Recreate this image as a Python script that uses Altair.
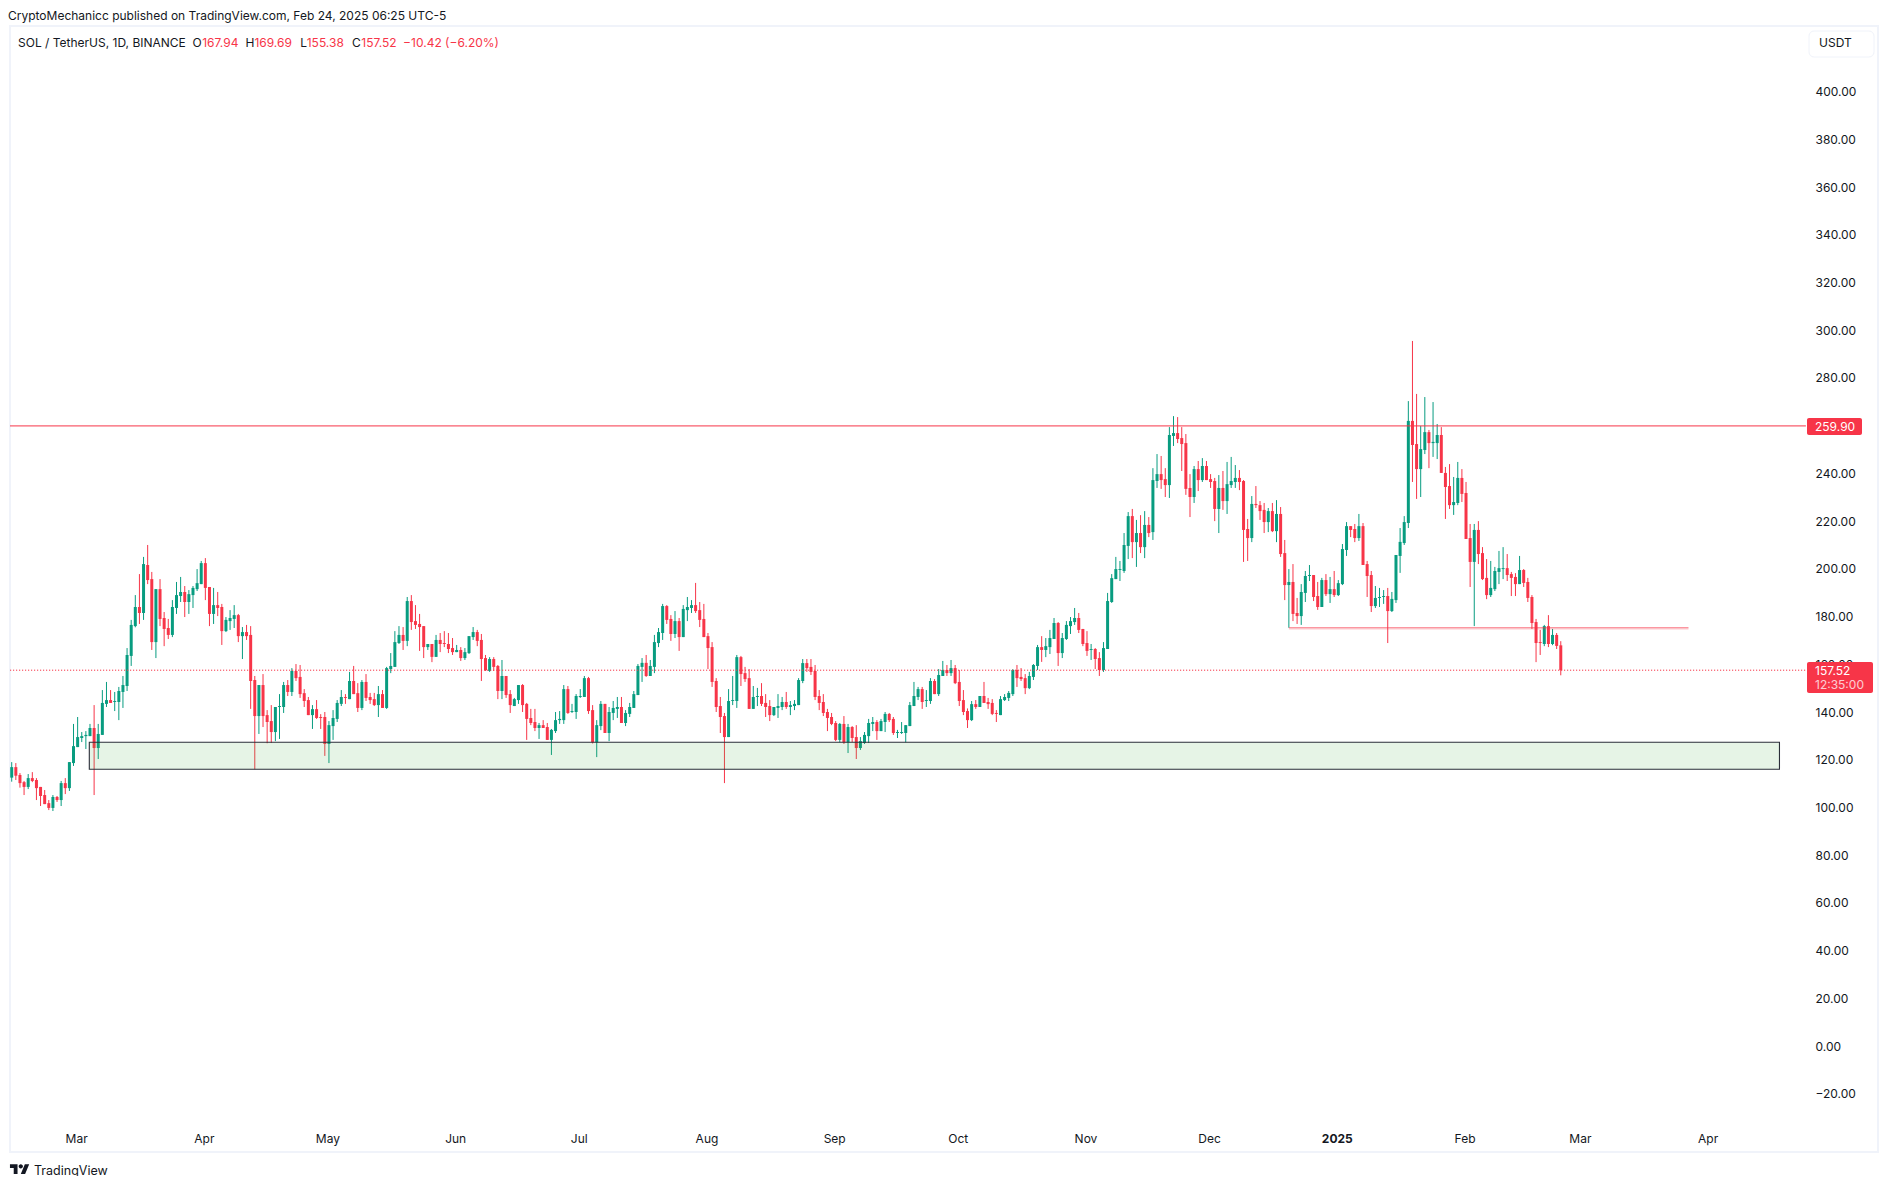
import altair as alt
import pandas as pd

opens = [
112.5,116.9,113.6,110.6,108.6,112.3,111.5,108.6,105.2,101.8,
99.8,104.4,103.1,110.2,108.1,118.6,125.3,129.1,129.9,129.9,
133.3,124.9,130.4,143.4,145.0,144.2,144.2,148.4,150.9,163.5,
176.0,184.0,181.5,201.6,195.7,169.3,191.5,179.4,175.2,172.3,
183.6,188.6,190.3,186.1,189.0,191.5,193.6,202.4,192.4,181.1,
184.8,184.0,173.9,178.1,179.0,180.6,171.8,173.5,172.3,153.4,
138.3,151.3,138.7,136.2,131.6,142.1,142.1,151.3,148.4,157.2,
154.7,147.9,145.0,138.7,141.2,137.9,137.9,126.6,134.1,137.1,
143.4,146.3,145.4,153.0,147.9,141.7,152.6,146.3,145.4,142.9,
147.5,141.7,158.0,158.9,168.9,172.3,169.8,186.5,178.1,176.9,
176.0,167.2,168.5,163.1,170.2,168.9,168.5,166.8,165.1,166.0,
162.6,164.7,171.4,173.5,170.2,162.6,157.2,162.2,159.3,148.8,
155.1,147.5,142.5,145.0,151.3,143.4,137.5,135.8,133.3,134.5,
133.7,128.3,132.0,136.6,136.6,149.6,140.0,140.0,146.3,146.3,
154.2,140.8,127.3,134.1,143.4,131.2,139.6,141.3,142.1,135.4,
139.2,141.7,147.1,158.9,160.6,155.1,158.9,168.9,173.1,184.4,
179.0,172.7,178.1,171.4,182.7,183.6,184.8,182.7,179.0,171.8,
167.2,153.0,142.5,138.3,129.5,144.6,144.6,163.0,156.3,154.2,
141.3,146.3,146.7,143.8,142.5,138.7,141.7,142.1,144.2,142.1,
142.5,142.9,153.0,160.5,158.9,157.2,146.7,144.2,140.0,137.9,
135.4,128.3,135.0,127.3,133.7,129.5,124.9,127.0,129.9,135.0,
135.8,132.0,135.8,139.2,137.1,131.2,131.2,131.2,134.1,142.5,
146.3,149.6,144.6,144.6,153.0,147.5,155.1,157.6,156.3,158.4,
152.6,145.0,140.4,136.6,143.3,142.1,146.7,144.2,143.8,139.6,
138.7,145.0,145.9,147.5,157.6,154.7,154.2,150.0,154.7,159.3,
167.2,166.0,167.2,170.6,177.3,164.7,170.6,176.0,177.7,179.4,
174.8,168.9,166.0,166.4,162.6,157.6,166.4,186.1,195.7,199.5,
199.1,209.6,222.1,211.2,215.0,209.1,218.4,215.4,236.8,239.7,
237.6,235.1,255.7,256.9,254.8,252.7,233.9,230.1,241.8,237.2,
243.1,237.6,236.8,225.1,233.9,228.4,235.1,236.4,238.1,236.8,
216.7,212.9,227.2,226.7,224.7,219.6,224.2,215.8,223.0,206.6,
193.2,194.5,181.5,180.2,189.9,197.0,197.4,188.6,184.0,195.3,
189.4,191.5,189.0,193.6,207.9,217.9,216.7,212.9,217.9,202.0,
197.4,184.4,187.8,188.2,188.6,182.3,186.9,205.4,210.8,219.2,
262.0,252.3,241.8,249.8,257.3,252.7,252.7,256.1,240.2,234.7,
226.7,227.6,238.1,231.8,212.9,202.9,216.3,206.6,196.2,189.0,
191.5,198.7,199.9,200.3,197.8,196.6,193.6,199.5,194.5,188.2,
177.7,169.3,168.5,176.0,168.5,172.3,167.94]

closes = [
116.9,113.3,110.2,108.6,112.3,111.1,108.1,104.8,101.4,99.8,
104.4,103.1,110.2,108.1,119.0,125.7,129.5,129.9,130.4,133.3,
124.9,130.8,143.8,145.0,143.8,144.6,148.8,151.3,163.9,176.5,
184.0,181.5,202.0,195.3,169.3,191.5,179.0,174.8,172.3,184.0,
189.0,190.3,186.1,189.4,192.0,194.0,202.4,192.0,181.1,184.8,
183.6,173.9,178.6,179.4,180.6,171.8,173.5,171.8,153.0,138.3,
151.3,138.3,135.8,131.6,142.1,142.5,151.3,148.4,157.2,154.2,
147.5,144.6,138.7,141.2,137.5,137.5,126.6,134.5,137.5,143.8,
146.3,145.9,153.0,147.5,141.7,152.6,145.9,145.0,142.9,147.5,
141.7,158.4,159.3,169.3,172.3,169.8,186.5,177.7,176.5,175.6,
167.2,168.5,163.1,170.2,168.5,168.5,166.4,165.1,166.0,162.6,
165.1,171.8,173.5,169.8,162.2,157.5,162.2,158.9,148.8,155.1,
147.1,142.9,145.4,151.3,142.9,137.1,135.4,133.3,134.5,133.3,
128.3,132.5,136.6,137.1,149.6,139.6,140.4,146.7,146.7,154.2,
140.4,127.3,134.5,143.4,131.2,140.0,141.7,142.1,135.4,139.6,
142.1,147.5,159.3,160.6,155.1,159.3,169.3,173.5,184.4,178.6,
172.7,178.1,171.4,183.2,184.0,184.8,182.3,178.6,171.4,166.8,
152.6,142.1,137.9,129.5,144.6,145.0,163.0,155.9,153.8,141.3,
146.3,146.7,143.4,142.1,138.7,142.1,142.5,144.2,142.1,142.9,
143.4,153.4,160.5,158.4,156.8,146.3,143.8,139.6,137.5,135.0,
128.3,135.0,127.3,133.7,129.1,124.9,127.8,130.4,135.4,135.8,
132.0,136.2,139.2,136.6,131.2,131.6,131.6,134.5,142.9,146.7,
149.6,144.2,145.0,153.0,147.5,155.5,157.6,156.3,158.4,152.1,
144.6,140.0,136.6,143.3,142.1,146.7,143.8,143.3,139.2,139.2,
145.4,146.3,148.0,157.6,154.2,153.8,150.0,155.1,159.7,167.2,
166.0,167.6,171.0,177.3,164.7,171.0,176.5,178.1,179.4,174.4,
168.5,165.6,166.4,162.2,157.6,166.8,186.5,196.1,199.9,199.9,
210.0,222.1,211.2,215.0,209.1,218.4,215.0,237.2,239.7,237.2,
235.1,256.1,256.9,254.4,252.3,233.5,230.1,241.8,237.2,243.1,
237.2,236.4,225.1,233.9,228.4,235.5,236.8,238.1,236.4,216.3,
212.9,227.2,226.7,224.2,219.6,224.2,215.8,223.0,206.2,193.2,
194.5,181.1,180.2,190.3,197.0,197.4,188.2,184.0,195.3,189.4,
191.5,189.0,194.0,208.3,217.9,216.3,212.9,217.9,201.6,197.0,
184.4,187.8,188.2,188.6,182.3,187.4,205.8,211.3,219.6,262.0,
251.9,241.8,250.2,257.3,252.7,253.2,256.1,240.2,234.3,226.7,
228.0,238.1,231.4,212.5,202.9,216.3,206.2,195.7,189.0,192.0,
199.1,200.3,200.3,197.4,196.2,193.6,199.5,194.1,187.8,177.3,
168.9,168.9,176.0,168.5,172.3,167.7,157.52]

highs = [
119.0,118.6,114.4,111.1,114.0,114.8,112.3,108.6,107.3,103.1,
105.2,104.8,111.1,112.3,119.0,135.0,137.9,131.6,132.0,135.0,
142.9,135.0,149.2,152.6,149.2,148.4,150.5,155.1,166.8,178.6,
189.0,197.8,205.0,210.0,198.7,191.5,195.7,181.9,179.0,186.9,
194.5,196.6,192.8,191.1,192.8,199.9,203.3,204.5,192.4,192.0,
190.3,185.3,179.8,182.7,184.8,181.1,175.6,176.5,176.0,155.1,
151.3,155.9,140.8,142.9,142.1,147.5,152.6,153.4,158.4,160.1,
159.7,149.6,146.3,142.9,145.0,139.1,140.0,136.2,140.8,145.0,
149.2,147.5,156.8,159.3,152.1,153.4,155.9,148.0,148.0,150.9,
149.2,158.9,164.7,173.9,176.0,175.6,188.2,189.0,184.8,181.1,
176.0,168.5,168.5,172.3,173.1,173.9,173.1,171.0,168.1,167.2,
166.8,171.8,175.6,174.4,172.7,163.9,163.0,163.0,159.7,161.8,
155.1,149.2,145.9,151.3,151.7,143.8,141.3,141.3,135.4,136.6,
135.4,132.9,140.0,140.4,151.3,150.9,143.4,147.5,149.6,155.1,
154.7,142.9,136.6,144.6,143.4,142.1,144.6,146.3,146.3,140.8,
143.8,148.8,160.1,162.6,163.9,161.8,172.3,175.2,185.3,184.8,
180.6,182.3,179.4,184.8,188.2,186.9,194.1,186.1,185.3,173.1,
169.3,154.2,146.3,139.6,149.6,155.1,163.9,163.5,158.9,158.0,
150.9,150.1,152.1,147.5,145.0,142.1,147.5,146.3,148.4,144.6,
145.0,154.2,162.2,162.2,162.2,159.7,149.2,147.5,141.3,139.6,
136.2,135.4,138.3,135.0,134.1,134.5,129.5,131.6,137.1,137.9,
136.6,137.1,140.0,139.6,137.9,132.5,135.8,134.5,144.2,152.6,
150.5,150.5,149.2,154.2,153.8,158.0,161.4,159.7,161.8,159.7,
157.6,149.2,141.5,144.6,145.0,146.7,152.6,145.9,145.4,140.8,
146.7,147.5,148.8,158.0,159.7,158.4,155.9,156.8,160.1,168.1,
171.8,171.0,174.4,179.4,177.7,173.1,178.1,179.8,183.6,181.5,
174.8,173.9,168.5,166.8,165.1,169.3,189.9,197.8,205.0,203.3,
215.0,223.8,225.1,220.5,222.5,224.2,221.7,242.2,248.1,247.3,
242.2,259.4,264.0,263.6,259.4,256.5,239.7,243.1,245.2,246.4,
245.2,239.7,238.1,239.3,241.0,244.8,246.9,243.5,241.4,237.2,
220.9,230.5,234.7,228.4,227.6,225.5,227.6,228.8,225.9,212.1,
199.9,202.0,187.8,193.6,199.1,201.6,197.4,194.5,196.2,197.8,
196.6,199.1,195.3,210.4,219.6,217.9,218.8,223.0,219.2,203.3,
199.1,192.8,192.0,191.1,192.0,190.3,205.8,217.1,222.1,270.3,
295.5,273.3,259.9,272.0,258.2,269.9,260.7,259.4,242.7,243.9,
238.5,244.8,241.8,236.4,218.8,218.8,220.0,209.1,204.1,203.3,
200.8,207.5,209.1,206.2,198.7,198.2,205.4,199.9,196.2,189.0,
179.0,174.4,176.5,180.6,174.8,173.1,169.69]

lows = [
110.8,111.5,108.3,105.2,107.7,110.6,103.1,100.6,101.4,98.9,
98.5,102.3,100.6,105.6,106.9,117.4,125.3,127.4,124.5,129.9,
105.2,120.3,130.4,142.1,143.8,140.4,136.6,141.7,148.8,159.3,
175.5,176.9,178.6,193.6,166.0,162.6,176.0,167.6,170.6,171.4,
181.1,186.1,179.8,181.1,183.6,190.7,193.6,186.9,176.0,176.9,
180.2,168.1,173.5,174.4,175.2,169.3,162.2,170.2,141.3,116.0,
130.8,133.7,126.9,127.0,127.8,128.7,139.6,146.7,146.7,153.0,
145.9,142.1,138.7,132.9,137.1,132.9,121.6,118.6,128.3,135.8,
142.5,143.4,145.4,147.5,140.0,140.8,144.6,143.4,142.5,137.9,
141.7,141.3,156.3,158.9,168.5,166.0,167.6,174.4,174.8,165.6,
162.6,166.0,160.9,163.1,165.1,167.2,164.7,163.9,165.1,161.4,
161.8,164.3,170.2,167.6,153.0,157.2,156.8,157.2,145.4,145.4,
145.9,139.6,142.5,143.4,140.0,128.3,134.5,132.0,128.7,133.3,
128.3,122.0,131.2,135.0,135.0,139.2,139.6,137.1,145.9,146.3,
139.2,126.8,121.1,132.4,131.2,127.8,136.6,137.5,135.4,134.1,
137.9,141.7,147.1,152.6,154.7,155.1,156.3,167.2,170.2,176.9,
169.8,171.0,165.6,171.4,178.1,181.5,181.5,175.6,171.4,158.0,
150.5,140.0,131.2,110.2,129.5,142.9,141.7,150.9,152.6,141.3,
141.3,142.5,142.5,137.9,136.2,138.3,137.5,140.8,141.3,138.7,
140.8,142.9,152.1,156.8,155.5,145.0,140.8,138.3,132.0,134.5,
127.8,127.3,126.6,122.8,127.4,120.3,124.1,126.6,127.0,132.0,
128.3,132.0,131.6,135.8,130.4,129.1,130.8,127.3,134.1,142.5,
145.0,141.3,142.1,143.4,147.5,146.7,155.1,155.1,155.1,151.7,
142.5,138.7,133.3,136.2,141.3,142.1,143.8,141.3,138.7,135.8,
138.7,144.6,144.6,146.7,150.5,153.0,147.5,149.6,153.4,157.6,
161.0,163.0,164.3,170.6,159.3,162.6,170.2,172.7,176.5,173.1,
167.6,163.5,161.8,158.0,155.1,156.8,166.4,185.7,195.7,194.9,
198.3,204.1,204.5,200.8,206.6,204.5,213.3,212.1,233.9,233.5,
230.1,229.7,251.5,252.7,241.0,231.0,221.7,227.6,232.6,236.4,
237.2,233.9,220.0,215.0,224.7,223.0,233.9,233.9,233.0,202.9,
203.3,211.2,225.5,220.5,215.0,215.4,215.4,211.2,205.0,186.9,
175.3,178.1,176.9,176.5,186.1,194.9,186.5,182.8,184.0,188.6,
185.7,188.2,188.6,193.2,205.4,213.3,211.2,211.7,201.6,188.2,
181.9,183.6,184.0,185.3,168.9,181.9,185.7,198.3,210.0,217.1,
236.4,229.3,230.1,248.1,242.2,246.9,246.0,240.2,220.9,225.1,
222.6,226.7,228.0,212.5,192.4,176.0,202.0,195.3,187.3,188.2,
190.7,193.6,195.7,194.9,188.6,188.6,193.6,192.4,186.1,174.8,
160.9,163.9,167.6,167.2,168.0,166.4,155.38]

price_ticks = list(range(-20, 401, 20))
zone_low, zone_high = 116.0, 127.3
zone_start, zone_end = "2024-03-03T20:00:00Z", "2025-04-18T02:00:00Z"
resistance = 259.90
last_close = 157.52
support = 175.3
support_start, support_end = "2024-12-20", "2025-03-27"
line_start, line_end = "2024-02-13T14:00:00Z", "2025-04-24T12:00:00Z"

GREEN = "#089C80"
RED = "#F73548"
INK = "#131722"
FONT = "Inter"

n = len(opens)
assert n == len(closes) == len(highs) == len(lows) == 377
dates = pd.date_range("2024-02-14", periods=n, freq="D").strftime("%Y-%m-%d").tolist()
df = pd.DataFrame({"date": dates, "open": opens, "high": highs, "low": lows, "close": closes})
df["dir"] = ["up" if c >= o else "down" for o, c in zip(opens, closes)]

x_scale = alt.Scale(type="utc", domain=["2024-02-13T14:00:00Z", "2025-05-12T00:00:00Z"], nice=False, padding=0)
y_scale = alt.Scale(domain=[-44.4, 427.5], nice=False, zero=False)
color = alt.Color("dir:N", scale=alt.Scale(domain=["up", "down"], range=[GREEN, RED]), legend=None)

month_ticks = [alt.DateTime(year=y, month=m, date=1, utc=True) for y, m in
               [(2024, i) for i in range(3, 13)] + [(2025, i) for i in range(1, 5)]]
x_axis = alt.Axis(values=month_ticks, grid=False, domain=False, ticks=False, title=None,
                  labelExpr="utcFormat(datum.value,'%m')=='01' ? utcFormat(datum.value,'%Y') : utcFormat(datum.value,'%b')",
                  labelFontWeight={"condition": {"test": "utcFormat(datum.value,'%m')=='01'", "value": 700}, "value": 400},
                  labelFont=FONT, labelFontSize=12, labelColor=INK, labelPadding=0, offset=-19, labelOffset=-1.5,
                  labelOverlap=False, labelFlush=False)
y_axis = alt.Axis(orient="right", values=price_ticks, format=".2f", grid=False, domain=False, ticks=False,
                  title=None, labelFont=FONT, labelFontSize=12, labelColor=INK, labelPadding=0,
                  offset=-63, labelOverlap=False, labelFlush=False, labelAlign="left", labelBaseline="middle")

base = alt.Chart(df)
wicks = base.mark_rule(strokeWidth=1).encode(
    x=alt.X("date:T", scale=x_scale, axis=x_axis),
    y=alt.Y("low:Q", scale=y_scale, axis=y_axis),
    y2="high:Q",
    color=color,
)
bodies = base.mark_bar(width=3).encode(
    x=alt.X("date:T", scale=x_scale, axis=None),
    y=alt.Y("open:Q", scale=y_scale, axis=None),
    y2="close:Q",
    color=color,
)

zone = alt.Chart(pd.DataFrame({"a": [zone_start], "b": [zone_end], "lo": [zone_low], "hi": [zone_high]})).mark_rect(
    fill="#4CAF50", fillOpacity=0.14, stroke="#2A2E39", strokeWidth=1.1
).encode(x=alt.X("a:T", scale=x_scale, axis=None), x2="b:T",
         y=alt.Y("lo:Q", scale=y_scale, axis=None), y2="hi:Q")


def hline(price, start, end, **kw):
    d = pd.DataFrame({"a": [start], "b": [end], "p": [price]})
    return alt.Chart(d).mark_rule(**kw).encode(
        x=alt.X("a:T", scale=x_scale, axis=None), x2="b:T",
        y=alt.Y("p:Q", scale=y_scale, axis=None))


res_line = hline(resistance, line_start, line_end, color=RED, strokeWidth=1)
last_line = hline(last_close, line_start, line_end, color=RED, strokeWidth=1, strokeDash=[1.2, 1.8])
sup_glow = hline(support - 0.5, support_start, support_end, color=RED, strokeWidth=1.5, opacity=0.18)
sup_line = hline(support, support_start, support_end, color=RED, strokeWidth=1, opacity=0.7)

# page pixel -> plot pixel
OX, OY = 10, 26


def text(s, x, y, color=INK, size=12, weight=400, opacity=1):
    return alt.Chart(pd.DataFrame({"t": [s]})).mark_text(
        align="left", baseline="middle", font=FONT, fontSize=size, fontWeight=weight,
        color=color, opacity=opacity
    ).encode(text="t:N", x=alt.value(x - OX), y=alt.value(y - OY))


def box(x0, x1, y0, y1, **kw):
    return alt.Chart(pd.DataFrame({"t": [0]})).mark_rect(**kw).encode(
        x=alt.value(x0 - OX), x2=alt.value(x1 - OX), y=alt.value(y0 - OY), y2=alt.value(y1 - OY))


tag_res = box(1807, 1862, 418, 435, color=RED, cornerRadius=2)
tag_last = box(1807, 1873, 662, 693, color=RED, cornerRadius=2)
usdt_box = box(1809, 1874, 31, 57, fill="#FFFFFF", stroke="#F0F3FA", strokeWidth=1, cornerRadius=5)

LOGO = ("M-.111 .25L-.306 .25L-.306 -.056L-.5 -.056L-.5 -.25L-.111 -.25Z"
        "M.278 .25L.056 .25L.264 -.25L.486 -.25Z"
        "M-.055 -.139A.111 .111 0 1 1 .167 -.139A.111 .111 0 1 1 -.055 -.139Z")
logo = alt.Chart(pd.DataFrame({"t": [0]})).mark_point(
    shape=LOGO, size=1521, filled=True, color=INK, opacity=1
).encode(x=alt.value(19.7 - OX), y=alt.value(1169 - OY))

labels = [
    text("CryptoMechanicc published on TradingView.com, Feb 24, 2025 06:25 UTC-5", 8, 15.7),
    text("SOL / TetherUS, 1D, BINANCE", 18, 42.5),
    text("O", 192.5, 42.5), text("167.94", 202.2, 42.5, RED),
    text("H", 245.6, 42.5), text("169.69", 254.4, 42.5, RED),
    text("L", 300.2, 42.5), text("155.38", 306.7, 42.5, RED),
    text("C", 352, 42.5), text("157.52", 361.3, 42.5, RED),
    text("\u221210.42 (\u22126.20%)", 403.1, 42.5, RED),
    text("USDT", 1819, 43),
    text("259.90", 1815, 426.5, "#FFFFFF"),
    text("157.52", 1815, 670.7, "#FFFFFF"),
    text("12:35:00", 1815, 684.5, "#FFFFFF", opacity=0.75),
    text("TradingView", 34, 1170.5, INK, 12.5),
]

chart = alt.layer(
    wicks, bodies, zone, res_line, last_line, sup_glow, sup_line,
    tag_res, tag_last, usdt_box, logo, *labels
).resolve_axis(x="independent", y="independent").properties(
    width=1868, height=1126,
    padding={"left": 2, "top": 18, "right": 2, "bottom": 24},
    autosize=alt.AutoSizeParams(type="none"),
    background="#FFFFFF",
).configure_view(stroke="#F0F3FA", strokeWidth=2)

chart.save("out.html", embed_options={"renderer": "svg", "actions": False})
